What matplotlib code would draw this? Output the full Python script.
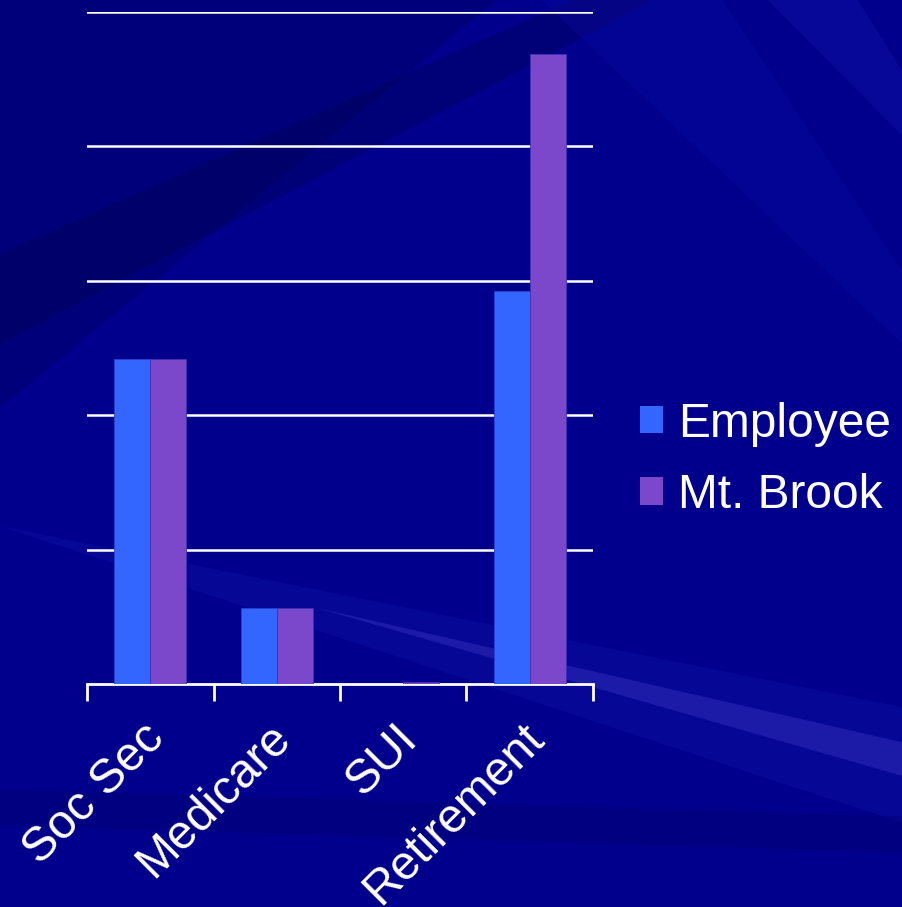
import matplotlib
matplotlib.use("Agg")
import matplotlib.pyplot as plt
import numpy as np
from matplotlib.patches import Patch, Polygon

# data (percent of wages)
categories = ["Soc Sec", "Medicare", "SUI", "Retirement"]
employee = [6.2, 1.45, 0.0, 7.5]
mt_brook = [6.2, 1.45, 0.03, 12.02]

BG = "#00008c"
EMP_COLOR = "#3366ff"
MTB_COLOR = "#7b48cc"

plt.rcParams['font.family'] = ['Liberation Sans', 'DejaVu Sans']

fig = plt.figure(figsize=(9.03, 9.07), dpi=100, facecolor=BG)

# background rays (decoration)
bg = fig.add_axes([0, 0, 1, 1], zorder=-10)
bg.set_xlim(0, 1)
bg.set_ylim(0, 1)
bg.axis("off")
bg.add_patch(Polygon([(0, 1), (0.55, 1), (0, 0.55)], closed=True, color="#000060", alpha=0.4, lw=0))
bg.add_patch(Polygon([(0, 0.72), (1.2, 1.25), (0, 0.62)], closed=True, color="#000050", alpha=0.35, lw=0))
bg.add_patch(Polygon([(0, 0.42), (1.1, 0.06), (1.1, 0.20)], closed=True, color="#1a1ab0", alpha=0.3, lw=0))
bg.add_patch(Polygon([(0.35, 0.33), (1.05, 0.13), (1.05, 0.17)], closed=True, color="#4a4ad0", alpha=0.3, lw=0))
bg.add_patch(Polygon([(0, 0.09), (1, 0.06), (1, 0.10), (0, 0.13)], closed=True, color="#000070", alpha=0.4, lw=0))
bg.add_patch(Polygon([(0.6, 1), (0.8, 1), (1, 0.7), (1, 0.62)], closed=True, color="#1010a8", alpha=0.3, lw=0))
bg.add_patch(Polygon([(0.85, 1), (0.95, 1), (1, 0.92), (1, 0.85)], closed=True, color="#1515b0", alpha=0.35, lw=0))

ax = fig.add_axes([87 / 903, 1 - 684 / 907, (593 - 87) / 903, (684 - 12) / 907])
ax.patch.set_alpha(0)

x = np.arange(len(categories))
w = 0.285
ax.bar(x - w / 2, employee, w, color=EMP_COLOR, edgecolor="#2a3fd0", linewidth=0.6, zorder=3, label="Employee")
ax.bar(x + w / 2, mt_brook, w, color=MTB_COLOR, edgecolor="#4030b0", linewidth=0.6, zorder=3, label="Mt. Brook")

ymax = 12.83
ax.set_ylim(0, ymax)
ax.set_xlim(-0.5, len(categories) - 0.5)
for gy in np.linspace(0, ymax, 6)[1:]:
    ax.axhline(gy, color="white", lw=1.8, zorder=1)

for s in ["left", "right", "top"]:
    ax.spines[s].set_visible(False)
ax.spines["bottom"].set_color("white")
ax.spines["bottom"].set_linewidth(2)
ax.set_yticks([])
ax.set_xticks(np.arange(-0.5, len(categories), 1.0))
ax.set_xticklabels([])
ax.tick_params(axis="x", direction="out", length=12, width=2, color="white")

for i, c in enumerate(categories):
    ax.text(i - 0.07, -0.6, c, rotation=45, rotation_mode="anchor", ha="right", va="top",
            color="white", fontsize=34.5, transform=ax.transData)

handles = [Patch(facecolor=EMP_COLOR), Patch(facecolor=MTB_COLOR)]
fig.legend(handles, ["Employee", "Mt. Brook"], loc="center left", bbox_to_anchor=(0.687, 0.493),
           frameon=False, fontsize=34.5, labelcolor="white", handlelength=0.5, handleheight=0.5,
           handletextpad=0.3, labelspacing=0.55, borderaxespad=0)

fig.savefig("out.png", dpi=100, facecolor=BG)
